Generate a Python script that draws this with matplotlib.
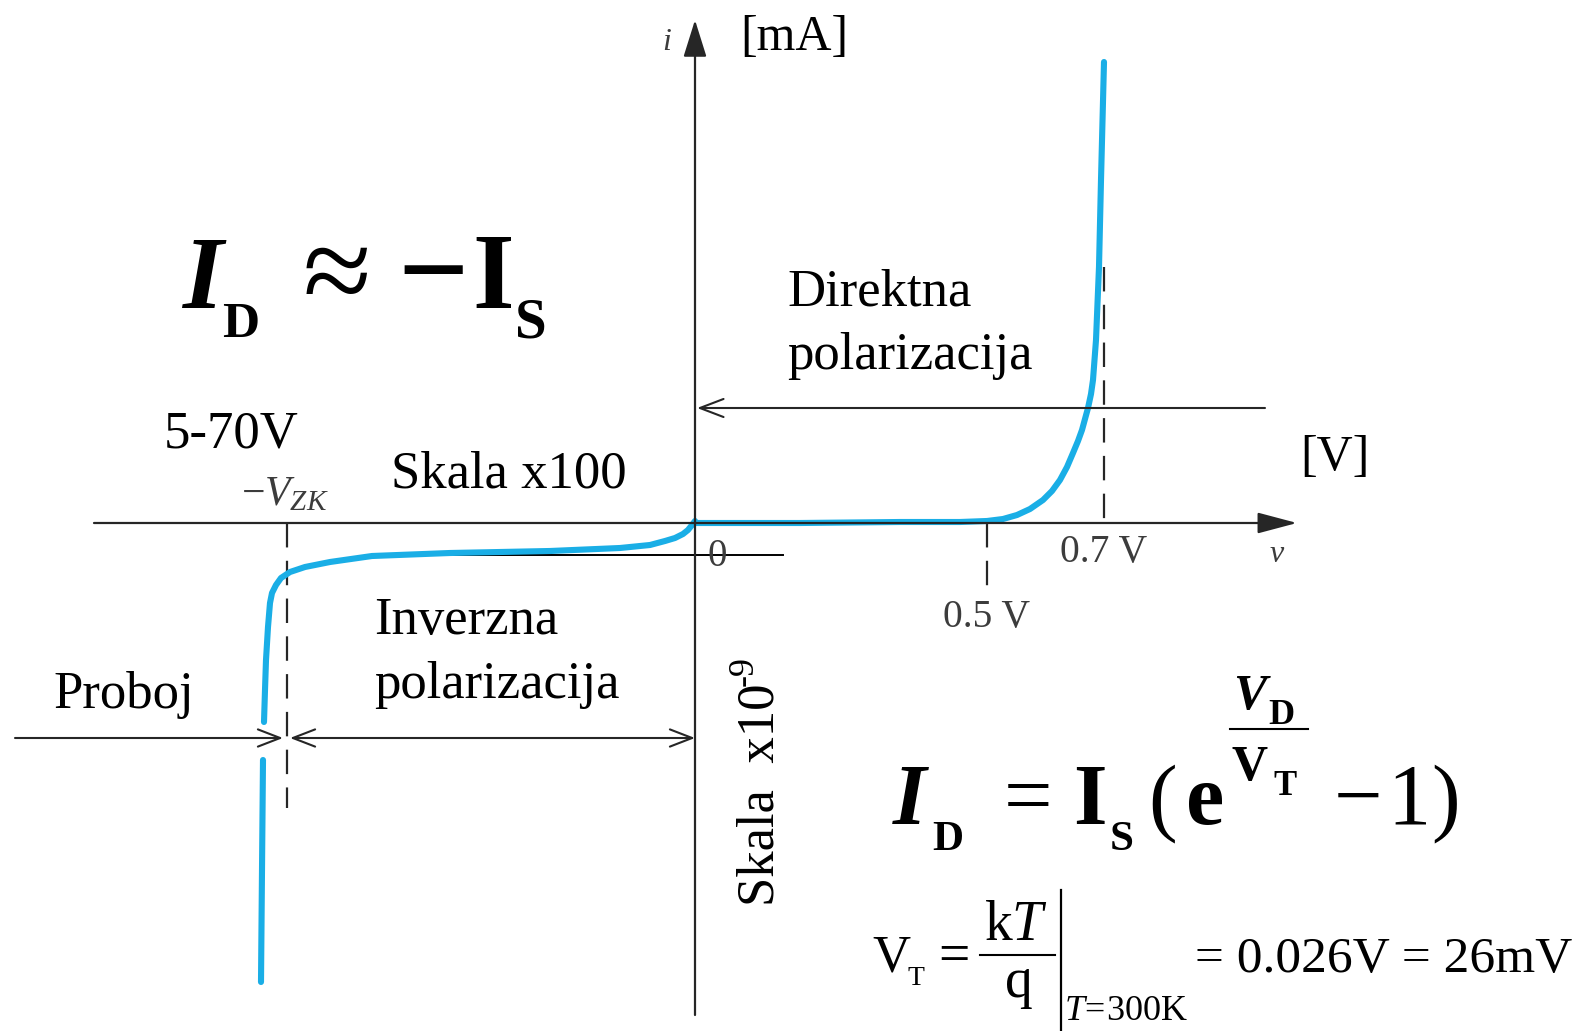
import matplotlib
matplotlib.use("Agg")
import matplotlib.pyplot as plt

plt.rcParams['font.family'] = ['Liberation Serif', 'DejaVu Serif']
plt.rcParams['mathtext.fontset'] = 'custom'
plt.rcParams['mathtext.rm'] = 'Liberation Serif'
plt.rcParams['mathtext.it'] = 'Liberation Serif:italic'
plt.rcParams['mathtext.bf'] = 'Liberation Serif:bold'

# Diode characteristic, sketched in drawing units (x to the right, y downward)
forward_x = [695, 800, 900, 960, 987, 1003, 1017, 1030, 1043, 1052, 1060, 1067,
             1073, 1078, 1082, 1085, 1088, 1091, 1093, 1096, 1099, 1101, 1104]
forward_y = [523, 523, 522, 522, 521, 519, 515, 509, 500, 491, 480, 467,
             453, 441, 430, 419, 408, 394, 380, 340, 267, 180, 62]

reverse_x = [695, 692, 688, 683, 675, 665, 650, 620, 550, 450, 372, 330,
             305, 290, 281, 276, 272, 270, 268, 266, 265, 264]
reverse_y = [521, 525, 530, 534, 538, 541, 545, 548, 551, 553, 556, 562,
             567, 572, 578, 585, 593, 603, 627, 660, 690, 722]

breakdown_x = [263, 262, 261]
breakdown_y = [760, 870, 982]

# Voltage markers on the v axis
marker_labels = ['0.5 V', '0.7 V']
marker_x = [987, 1104]

W, H = 1586, 1031
fig = plt.figure(figsize=(W / 100, H / 100), dpi=100)
ax = fig.add_axes([0, 0, 1, 1])
ax.set_xlim(0, W)
ax.set_ylim(H, 0)
ax.axis('off')

AX_C = '#262626'
GRAY = '#3c3c3c'
BLUE = '#1aaee6'


def arrow(p0, p1, style, lw=1.6, color=AX_C, ms=10):
    ax.annotate('', xy=p1, xytext=p0,
                arrowprops=dict(arrowstyle=style, mutation_scale=ms, lw=lw,
                                color=color, shrinkA=0, shrinkB=0))


# Axes
arrow((695, 1015), (695, 20), '-|>,head_length=2.3,head_width=0.72')
arrow((94, 523), (1297, 523), '-|>,head_length=2.45,head_width=0.65')

# Forward-bias marker line and reference line for the reverse scale
arrow((1265, 408), (697, 408), '->,head_length=1.7,head_width=0.65', lw=1.5)
ax.plot([372, 783], [555, 555], color='black', lw=1.4)

# Region arrows
arrow((15, 738), (283, 738), '->,head_length=1.6,head_width=0.62', lw=1.5)
arrow((290, 738), (695, 738), '<->,head_length=1.6,head_width=0.62', lw=1.5)

# Dashed guides
dash = (0, (11, 6))
ax.plot([1104, 1104], [267, 523], color=AX_C, lw=1.6, linestyle=dash)
ax.plot([987, 987], [523, 597], color=AX_C, lw=1.6, linestyle=dash)
ax.plot([287, 287], [523, 808], color=AX_C, lw=1.6, linestyle=dash)

# Characteristic curve
for xs, ys in ((forward_x, forward_y), (reverse_x, reverse_y),
               (breakdown_x, breakdown_y)):
    ax.plot(xs, ys, color=BLUE, lw=4.4, solid_capstyle='round',
            solid_joinstyle='round')


def t(x, y, s, size, **kw):
    kw.setdefault('va', 'baseline')
    kw.setdefault('ha', 'left')
    return ax.text(x, y, s, fontsize=size, **kw)


# Axis labels
t(667, 50, 'i', 23, style='italic', color=GRAY, ha='center')
t(740, 50, '[mA]', 36)
t(1277, 562, 'v', 23, style='italic', color=GRAY, ha='center')
t(1300, 470, '[V]', 36)
t(717, 566, '0', 28, color=GRAY, ha='center')
for lab, xm, yb in zip(marker_labels, marker_x, [627, 562]):
    t(xm, yb, lab, 28.5, color=GRAY, ha='center')
t(285, 505, r'$-V_{ZK}$', 30, color=GRAY, ha='center')

# Region annotations
t(164, 447, '5-70V', 38)
t(391, 488, 'Skala x100', 38)
t(787, 305, 'Direktna', 38)
t(787, 369, 'polarizacija', 38)
t(374, 634, 'Inverzna', 38)
t(374, 698, 'polarizacija', 38)
t(53, 708, 'Proboj', 38)
ax.text(773, 906, 'Skala  x10', fontsize=38, rotation=90,
        rotation_mode='anchor', ha='left', va='baseline')
ax.text(753, 686, '-9', fontsize=26, rotation=90,
        rotation_mode='anchor', ha='left', va='baseline')

# I_D ~ -I_S
t(182, 308, 'I', 75, weight='bold', style='italic')
t(222, 337, 'D', 37, weight='bold')
t(337, 312, '\u2248', 90, ha='center')
t(433, 311, '\u2212', 90, ha='center', weight='bold')
t(472, 308, 'I', 77, weight='bold')
t(515, 337, 'S', 41, weight='bold')

# Diode equation
t(893, 824, 'I', 62, weight='bold', style='italic')
t(932, 850, 'D', 31, weight='bold')
t(1028, 824, '=', 62, ha='center')
t(1073, 824, 'I', 62, weight='bold')
t(1110, 850, 'S', 31, weight='bold')
t(1148, 824, '(', 62)
t(1186, 824, 'e', 62, weight='bold')
t(1233, 709, 'V', 36, weight='bold', style='italic')
t(1268, 724, 'D', 26, weight='bold')
ax.plot([1230, 1308], [729, 729], color='black', lw=1.5)
t(1232, 780, 'V', 36, weight='bold')
t(1273, 795, 'T', 25, weight='bold')
t(1358, 824, '\u2212', 62, ha='center')
t(1387, 824, '1', 62)
t(1431, 824, ')', 62)

# Thermal voltage
t(872, 972, 'V', 38)
t(907, 985, 'T', 20)
t(938, 972, '=', 40)
t(1016, 940, r'$\mathrm{k}T$', 40, ha='center')
ax.plot([980, 1055], [955, 955], color='black', lw=1.5)
t(1019, 997, 'q', 40, ha='center')
ax.plot([1061, 1061], [890, 1030], color='black', lw=1.6)
t(1064, 1020, r'$T\!=\!300\mathrm{K}$', 26)
t(1195, 972, '= 0.026V = 26mV', 37)

fig.savefig('out.png', dpi=100)
